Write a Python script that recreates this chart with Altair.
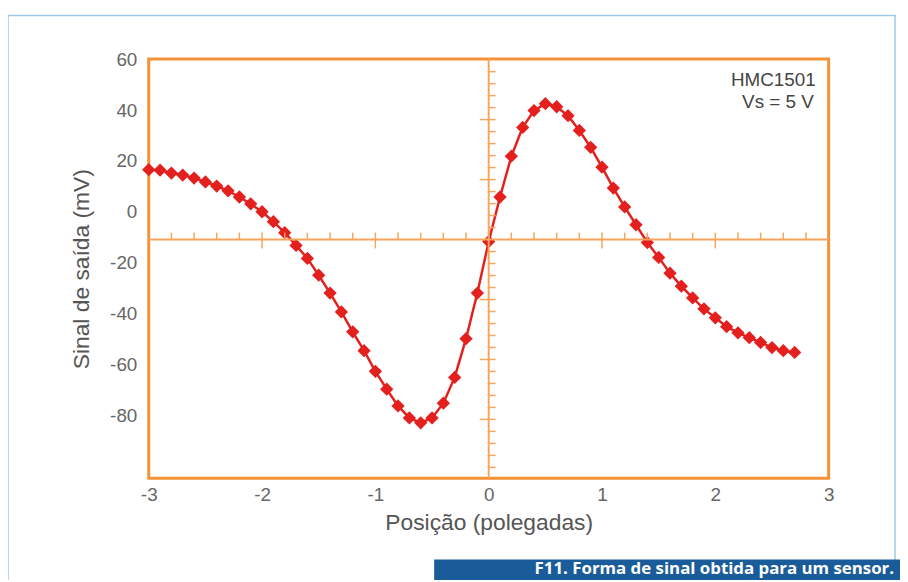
import altair as alt
import pandas as pd

# ---- data ----
position = [-3.0, -2.9, -2.8, -2.7, -2.6, -2.5, -2.4, -2.3, -2.2, -2.1,
            -2.0, -1.9, -1.8, -1.7, -1.6, -1.5, -1.4, -1.3, -1.2, -1.1,
            -1.0, -0.9, -0.8, -0.7, -0.6, -0.5, -0.4, -0.3, -0.2, -0.1,
            0.0, 0.1, 0.2, 0.3, 0.4, 0.5, 0.6, 0.7, 0.8, 0.9,
            1.0, 1.1, 1.2, 1.3, 1.4, 1.5, 1.6, 1.7, 1.8, 1.9,
            2.0, 2.1, 2.2, 2.3, 2.4, 2.5, 2.6, 2.7]
signal = [16.6, 16.4, 15.3, 14.5, 13.3, 11.8, 10.2, 8.3, 5.9, 3.2,
          0.1, -3.8, -8.1, -13.1, -18.2, -24.8, -31.8, -39.2, -47.0, -54.4,
          -62.5, -69.5, -76.1, -80.8, -82.7, -80.8, -75.0, -64.9, -49.7, -31.8,
          -11.6, 5.9, 21.9, 33.2, 39.8, 42.5, 41.3, 37.8, 32.0, 25.4,
          17.6, 9.4, 2.0, -5.0, -12.0, -17.8, -24.0, -29.1, -33.7, -38.0,
          -41.5, -45.0, -47.4, -49.3, -51.2, -53.2, -54.4, -55.1]
x_ticks = [-3, -2, -1, 0, 1, 2, 3]
y_ticks = [-80, -60, -40, -20, 0, 20, 40, 60]
annotation = ["HMC1501", "Vs = 5 V"]
caption = "F11. Forma de sinal obtida para um sensor."

# ---- layout constants ----
W, H = 686, 423
X_DOM = [-3, 3]
Y_DOM = [-104.5, 60]
px_x = W / (X_DOM[1] - X_DOM[0])
px_y = H / (Y_DOM[1] - Y_DOM[0])
ORANGE = "#F39236"
CROSS = "#F7A55C"
RED = "#E3201E"
CROSS_Y = -10.8  # level of the inner horizontal axis
LABEL_EXPR = "datum.value < 0 ? '-' + abs(datum.value) : '' + datum.value"

df = pd.DataFrame({"x": position, "y": signal})
xs = alt.Scale(domain=X_DOM, nice=False, zero=False)
ys = alt.Scale(domain=Y_DOM, nice=False, zero=False)

AX_X = alt.Axis(values=x_ticks, labelExpr=LABEL_EXPR, title="Posição (polegadas)",
                grid=False, domain=False, ticks=False, labelFontSize=19,
                labelColor="#666", labelPadding=7, titleFontSize=23,
                titleColor="#555", titleFontWeight="normal", titlePadding=8,
                labelFont="Liberation Sans", titleFont="Liberation Sans",
                labelFlush=False)
AX_Y = alt.Axis(values=y_ticks, labelExpr=LABEL_EXPR, title="Sinal de saída (mV)",
                grid=False, domain=False, ticks=False, labelFontSize=19,
                labelColor="#666", labelPadding=12, titleFontSize=23,
                titleColor="#555", titleFontWeight="normal", titlePadding=16,
                labelFont="Liberation Sans", titleFont="Liberation Sans")


def X(field):
    return alt.X(field, scale=xs, axis=AX_X)


def Y(field):
    return alt.Y(field, scale=ys, axis=AX_Y)


line = alt.Chart(df).mark_line(color=RED, strokeWidth=2.5, clip=False).encode(
    x=X("x:Q"), y=Y("y:Q"))
points = alt.Chart(df).mark_point(shape="diamond", filled=True, size=180, color=RED,
                                  opacity=1, clip=False).encode(x=X("x:Q"), y=Y("y:Q"))

# inner crosshair axes
hline_df = pd.DataFrame({"x": [X_DOM[0]], "x2": [X_DOM[1]], "y": [CROSS_Y]})
hline = alt.Chart(hline_df).mark_rule(color=CROSS, strokeWidth=2).encode(
    x=X("x:Q"), x2="x2:Q", y=Y("y:Q"))
vline_df = pd.DataFrame({"x": [0.0], "y": [Y_DOM[0]], "y2": [Y_DOM[1]]})
vline = alt.Chart(vline_df).mark_rule(color=CROSS, strokeWidth=2).encode(
    x=X("x:Q"), y=Y("y:Q"), y2="y2:Q")

hrows = []
for i in range(-14, 15):
    if i == 0:
        continue
    major = i % 5 == 0
    hrows.append({"x": i * 0.2,
                  "y": CROSS_Y - (9 / px_y if major else 0),
                  "y2": CROSS_Y + 7 / px_y})
hticks = alt.Chart(pd.DataFrame(hrows)).mark_rule(color=CROSS, strokeWidth=1.5).encode(
    x=X("x:Q"), y=Y("y:Q"), y2="y2:Q")

vrows = []
step = 12.1 / px_y
for k in range(-19, 15):
    if k == 0:
        continue
    major = k % 5 == 0
    vrows.append({"x": -9 / px_x if major else 0.0, "x2": 7 / px_x,
                  "y": CROSS_Y + k * step})
vticks = alt.Chart(pd.DataFrame(vrows)).mark_rule(color=CROSS, strokeWidth=1.5).encode(
    x=X("x:Q"), x2="x2:Q", y=Y("y:Q"))

one = pd.DataFrame({"a": [0]})
ann1 = alt.Chart(one).mark_text(align="right", baseline="middle", fontSize=19, color="#444",
                                font="Liberation Sans").encode(
    x=alt.value(673), y=alt.value(21), text=alt.value(annotation[0]))
ann2 = alt.Chart(one).mark_text(align="right", baseline="middle", fontSize=19, color="#444",
                                font="Liberation Sans").encode(
    x=alt.value(671), y=alt.value(43), text=alt.value(annotation[1]))

frame = alt.Chart(one).mark_rect(filled=False, stroke="#9CCBE3", strokeWidth=1.5).encode(
    x=alt.value(-142), x2=alt.value(753), y=alt.value(-44), y2=alt.value(560))
banner = alt.Chart(one).mark_rect(color="#1A5C99").encode(
    x=alt.value(288), x2=alt.value(760), y=alt.value(505), y2=alt.value(560))
cap = alt.Chart(one).mark_text(align="right", baseline="top", fontSize=17, fontWeight="bold",
                               color="white", font="Open Sans").encode(
    x=alt.value(752), y=alt.value(507), text=alt.value(caption))

chart = alt.layer(line, points, hline, vline, hticks, vticks, frame, banner, cap,
                  ann1, ann2).properties(
    width=W, height=H,
    autosize=alt.AutoSizeParams(type="none"),
    padding={"left": 142, "top": 49, "right": 72, "bottom": 100},
    background="white",
).configure_view(stroke=ORANGE, strokeWidth=3)

chart.save("out.html", embed_options={"renderer": "svg", "actions": False})
